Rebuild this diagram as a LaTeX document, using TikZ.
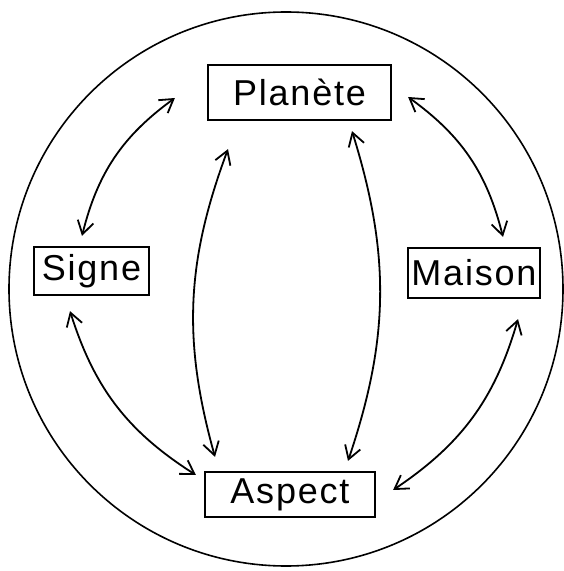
\documentclass[tikz,border=0pt]{standalone}
\usepackage{fontspec}
\setmainfont{Liberation Sans}[LetterSpace=5]
\usetikzlibrary{arrows.meta}

\begin{document}
\begin{tikzpicture}[x=1pt, y=1pt, line width=1.8pt,
    every node/.style={font=\fontsize{36}{40}\selectfont},
    cadre/.style={draw, line width=2.2pt, inner sep=0pt},
    lien/.style={<->, >={Straight Barb[length=13pt,width=16pt]}}]
  \useasboundingbox (0,0) rectangle (564,571);
  \draw[line width=1.6pt] (286,282) circle (277pt);
  % the four boxes, top, left, right, bottom
  \node[cadre, minimum width=183, minimum height=55] (plan) at (299.5,478.5) {Planète};
  \node[cadre, minimum width=115, minimum height=48] (sig) at (91.5,300) {Signe};
  \node[cadre, minimum width=132, minimum height=50] (mai) at (474,298) {Maison};
  \node[cadre, minimum width=170, minimum height=45] (asp) at (290,76.5) {Aspect};
  % outer links
  \draw[lien] ([shift={(-32,-5.5)}]plan.west) to[bend right=20] ([shift={(-9.5,10)}]sig.north);
  \draw[lien] ([shift={(16,-4.5)}]plan.east) to[bend left=20] ([shift={(29,10)}]mai.north);
  \draw[lien] ([shift={(-21.5,-15)}]sig.south) to[bend right=20] ([shift={(-8,19.5)}]asp.west);
  \draw[lien] ([shift={(44,-20)}]mai.south) to[bend left=20] ([shift={(17,4.5)}]asp.east);
  % Planète -- Aspect, twice
  \draw[lien] ([shift={(-71.5,-28)}]plan.south) to[bend right=18] ([shift={(-75,14)}]asp.north);
  \draw[lien] ([shift={(52.5,-10)}]plan.south) to[bend left=18] ([shift={(58,10)}]asp.north);
\end{tikzpicture}
\end{document}
